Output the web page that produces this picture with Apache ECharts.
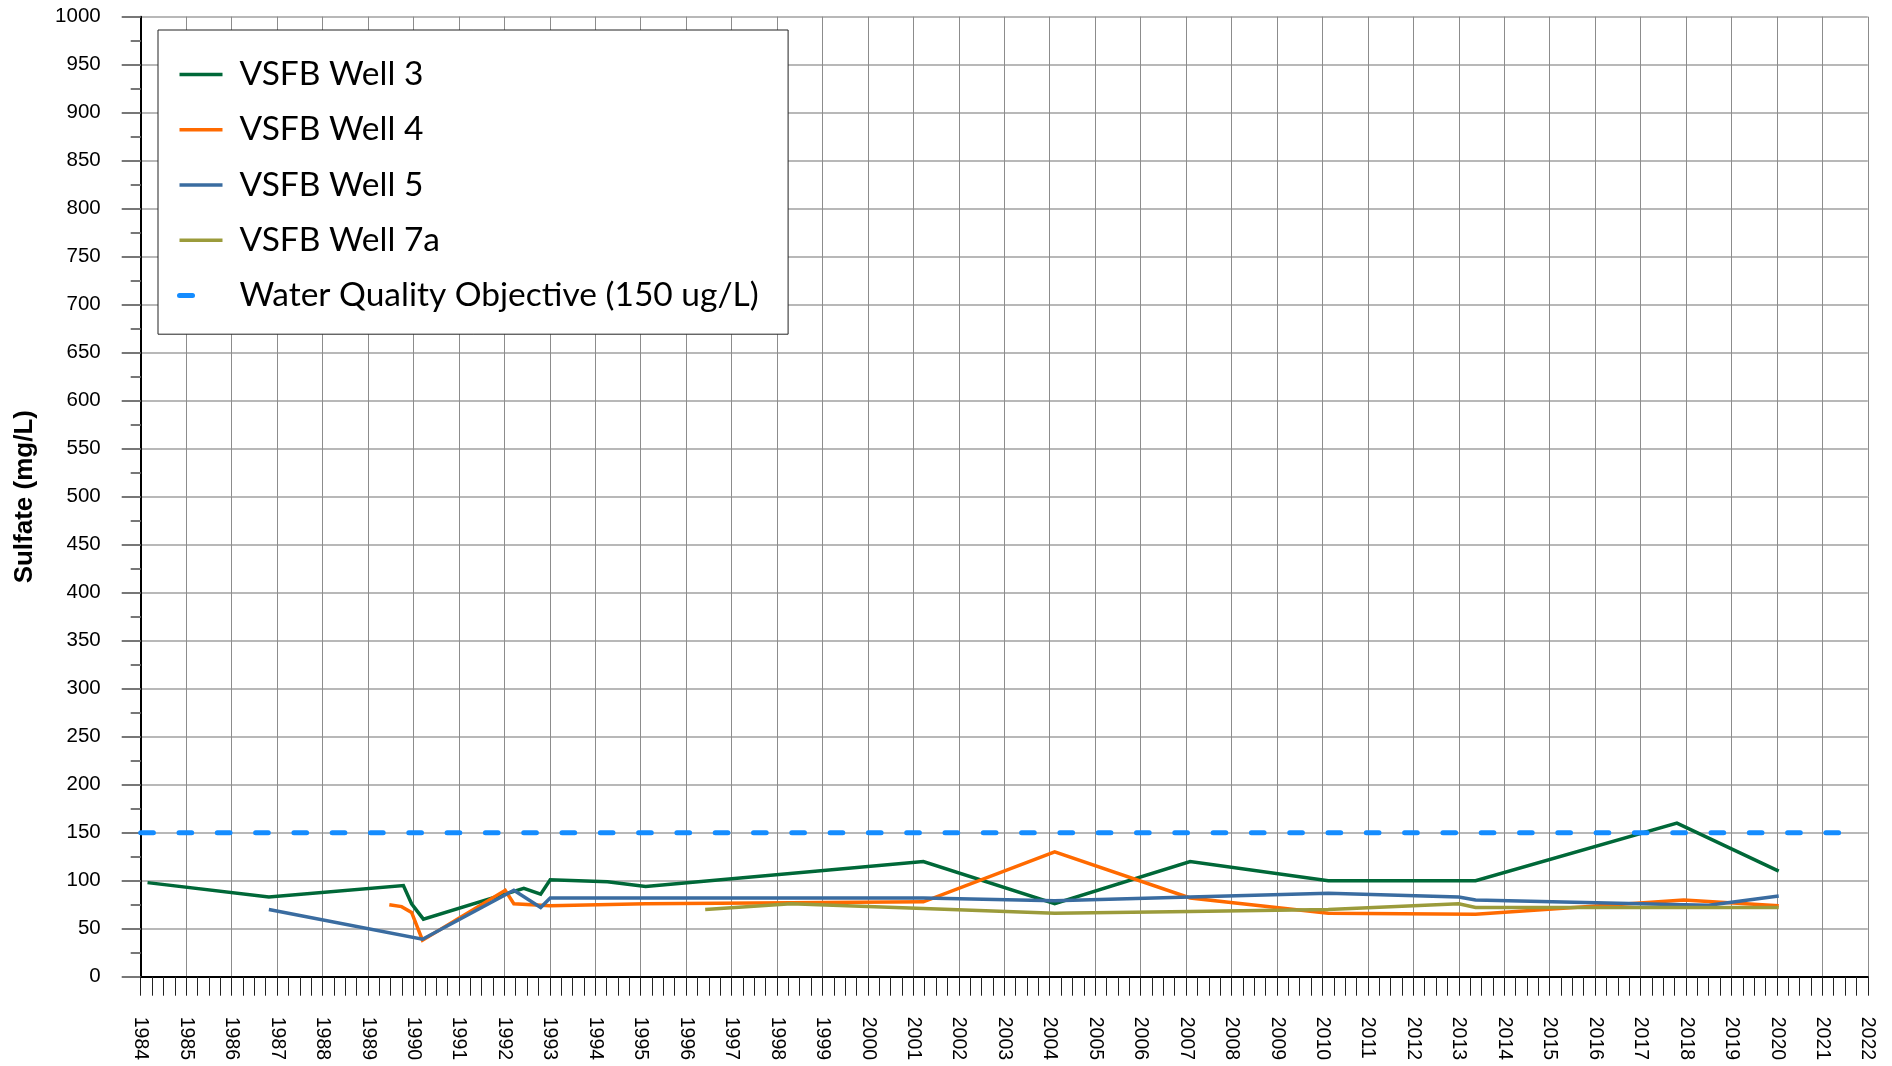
<!DOCTYPE html>
<html>
<head>
<meta charset="utf-8">
<script src="https://cdn.jsdelivr.net/npm/echarts@6/dist/echarts.min.js"></script>
<style>
html,body{margin:0;padding:0;background:#fff;}
#chart{width:1892px;height:1066px;}
</style>
</head>
<body>
<div id="chart"></div>
<script>
// ---- data (decimal year, sulfate mg/L) ----
var seriesNames = ['VSFB Well 3', 'VSFB Well 4', 'VSFB Well 5', 'VSFB Well 7a', 'Water Quality Objective (150 ug/L)'];

var well3 = [
  [1984.15, 98], [1986.82, 83], [1989.78, 95], [1989.96, 76], [1990.22, 60],
  [1992.43, 92], [1992.8, 86], [1993.01, 101], [1994.27, 99], [1995.11, 94],
  [2001.22, 120], [2004.11, 76], [2007.09, 120], [2010.13, 100], [2013.37, 100],
  [2017.8, 160], [2020.04, 110]
];
var well4 = [
  [1989.47, 75], [1989.74, 73], [1989.96, 67], [1990.2, 38], [1992.02, 90],
  [1992.21, 76], [1993.01, 74], [1995.11, 76], [1998.31, 77], [2001.22, 78],
  [2004.11, 130], [2007.09, 82], [2010.13, 66], [2013.37, 65], [2017.95, 80],
  [2020.04, 74]
];
var well5 = [
  [1986.82, 70], [1990.2, 39], [1992.21, 90], [1992.8, 72], [1993.01, 82],
  [2001.22, 82], [2004.11, 79], [2007.09, 83], [2010.13, 87], [2013.0, 83],
  [2013.37, 80], [2017.95, 75], [2018.5, 74.5], [2020.04, 84]
];
var well7a = [
  [1996.42, 70], [1998.31, 76], [2001.22, 71], [2004.11, 66], [2007.09, 68],
  [2010.13, 70], [2013.0, 76], [2013.37, 72], [2020.04, 72]
];
var objective = [[1984, 150], [2021.6, 150]];

var xMin = 1984, xMax = 2022, xStep = 1;
var yMin = 0, yMax = 1000, yStep = 50;

var colors = ['#006838', '#FF6A00', '#3A6CA0', '#9B9B3B', '#148CFF'];

var chart = echarts.init(document.getElementById('chart'), null, {renderer: 'canvas'});

function lineSeries(name, data, color) {
  return {
    name: name, type: 'line', data: data, symbol: 'none', smooth: false,
    lineStyle: {color: color, width: 3.5, join: 'miter'},
    itemStyle: {color: color},
    animation: false
  };
}

var option = {
  backgroundColor: '#ffffff',
  animation: false,
  grid: {left: 140.7, right: 24.2, top: 16.7, bottom: 89.3, containLabel: false},
  legend: {
    orient: 'vertical',
    left: 158, top: 30,
    padding: [26.4, 20, 20.6, 19],
    backgroundColor: '#ffffff',
    borderColor: '#222',
    borderWidth: 1,
    itemWidth: 43,
    itemHeight: 2,
    itemGap: 19.3,
    selectedMode: false,
    itemStyle: {opacity: 0},
    lineStyle: {width: 3.5},
    textStyle: {
      fontFamily: 'Lato', fontSize: 33.5, color: '#000',
      lineHeight: 36, width: 528.6, padding: [0, 0, 0, 12]
    },
    data: [
      {name: seriesNames[0]},
      {name: seriesNames[1]},
      {name: seriesNames[2]},
      {name: seriesNames[3]},
      {name: seriesNames[4], lineStyle: {type: [13, 80], width: 5, cap: 'round', color: colors[4]}}
    ]
  },
  xAxis: {
    type: 'value', min: xMin, max: xMax, interval: xStep,
    axisLine: {show: true, onZero: false, lineStyle: {color: '#000', width: 2}},
    axisTick: {show: true, length: 19, lineStyle: {color: '#222', width: 1}},
    minorTick: {show: true, splitNumber: 4, length: 19, lineStyle: {color: '#222', width: 1}},
    axisLabel: {
      rotate: -90, margin: 40, fontFamily: 'Liberation Sans', fontSize: 19.5, color: '#000',
      formatter: function (v) { return String(v); }
    },
    splitLine: {show: true, lineStyle: {color: '#8c8c8c', width: 1}}
  },
  yAxis: {
    type: 'value', min: yMin, max: yMax, interval: yStep,
    name: 'Sulfate (mg/L)', nameLocation: 'middle', nameGap: 103,
    nameTextStyle: {fontFamily: 'Liberation Sans', fontSize: 26, fontWeight: 'bold', color: '#000'},
    axisLine: {show: true, lineStyle: {color: '#000', width: 2}},
    axisTick: {show: true, length: 19, lineStyle: {color: '#777', width: 2}},
    minorTick: {show: true, splitNumber: 2, length: 10, lineStyle: {color: '#777', width: 2}},
    axisLabel: {
      margin: 40, fontFamily: 'Liberation Sans', fontSize: 20.5, color: '#000',
      formatter: function (v) { return String(v); }
    },
    splitLine: {show: true, lineStyle: {color: '#a0a0a0', width: 1.5}}
  },
  series: [
    lineSeries(seriesNames[0], well3, colors[0]),
    lineSeries(seriesNames[1], well4, colors[1]),
    lineSeries(seriesNames[2], well5, colors[2]),
    lineSeries(seriesNames[3], well7a, colors[3]),
    {
      name: seriesNames[4], type: 'line', data: objective, symbol: 'none',
      lineStyle: {color: colors[4], width: 5, type: [12.7, 25.6], cap: 'round'},
      itemStyle: {color: colors[4]},
      animation: false
    }
  ]
};
chart.setOption(option);
</script>
</body>
</html>
